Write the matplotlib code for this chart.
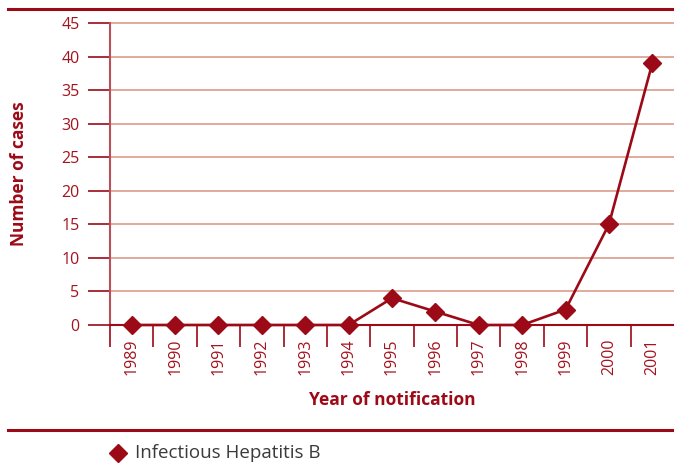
import matplotlib
matplotlib.use("Agg")
import matplotlib.pyplot as plt
from matplotlib.lines import Line2D

years = ["1989", "1990", "1991", "1992", "1993", "1994", "1995",
         "1996", "1997", "1998", "1999", "2000", "2001"]
cases = [0, 0, 0, 0, 0, 0, 4, 2, 0, 0, 2.3, 15, 39]
series_name = "Infectious Hepatitis B"
yticks = [0, 5, 10, 15, 20, 25, 30, 35, 40, 45]

RED = "#9c0a17"
TXT = "#a3131f"
GRID = "#dc9c8a"
SPINE = "#b8505a"

plt.rcParams['font.family'] = ['Open Sans', 'DejaVu Sans']

fig = plt.figure(figsize=(6.74, 4.66), dpi=100)
ax = fig.add_axes([110/674, 1-325/466, 564/674, 302/466])

x = list(range(len(years)))
ax.plot(x, cases, color=RED, lw=1.9, marker='D', ms=9.5, mfc=RED, mec=RED,
        zorder=5, clip_on=False)

ax.set_xlim(-0.5, len(years)-0.5)
ax.set_ylim(0, 45)
ax.set_yticks(yticks)
ax.set_yticklabels([str(v) for v in yticks], color=TXT, fontsize=11.5)
ax.tick_params(axis='y', length=16, width=1.2, color=RED, pad=6)
for y in yticks[1:]:
    ax.axhline(y, color=GRID, lw=1.2, zorder=1, clip_on=False)

ax.set_xticks(x)
ax.set_xticklabels(years, rotation=90, color=TXT, fontsize=11.5)
ax.tick_params(axis='x', which='major', length=0, pad=9.5)
ax.set_xticks([i + 0.5 for i in x[:-1]] + [-0.5], minor=True)
ax.tick_params(axis='x', which='minor', length=16, width=1.2, color=RED)

for s in ['top', 'right']:
    ax.spines[s].set_visible(False)
ax.spines['left'].set_color(SPINE)
ax.spines['left'].set_linewidth(1.5)
ax.spines['bottom'].set_color(RED)
ax.spines['bottom'].set_linewidth(1.5)

ax.set_ylabel("Number of cases", color=RED, fontsize=12.5, fontweight='bold')
ax.yaxis.set_label_coords(-0.145, 0.5)
ax.set_xlabel("Year of notification", color=RED, fontsize=12.5, fontweight='bold')
ax.xaxis.set_label_coords(0.5, -0.22)

# decorative rules
fig.add_artist(Line2D([8/674, 1], [1-9/466, 1-9/466], color=RED, lw=2.2))
fig.add_artist(Line2D([8/674, 1], [1-430/466, 1-430/466], color=RED, lw=2.2))

# legend
fig.add_artist(Line2D([118/674], [1-453/466], marker='D', ms=9, color=RED, lw=0))
fig.text(135/674, 1-453/466, series_name, color="#3a3a3a", fontsize=13.5, va='center', ha='left')

fig.savefig("out.png", dpi=100)
